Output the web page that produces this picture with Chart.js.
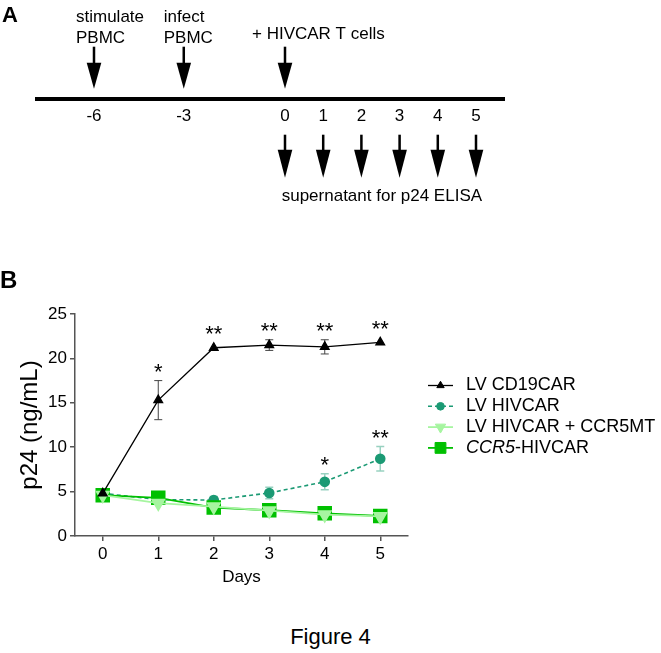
<!DOCTYPE html>
<html>
<head>
<meta charset="utf-8">
<title>Figure 4</title>
<script src="https://cdn.jsdelivr.net/npm/chart.js@4.4.0/dist/chart.umd.min.js"></script>
<style>
    body { margin: 0; background: #fff; }
    #page { position: relative; width: 661px; height: 653px; font-family: "Liberation Sans", Arial, sans-serif; color: #000; overflow: hidden; }
    .panel { position: absolute; font-weight: bold; }
    #timeline { position: absolute; left: 0; top: 0; }
    #p24chart { position: absolute; left: 0; top: 250px; }
    #caption { position: absolute; left: 0; top: 626px; width: 661px; text-align: center; font-size: 22px; line-height: 22px; }
</style>
</head>
<body>
<div id="page">
    <canvas id="timeline" width="661" height="210"></canvas>
    <canvas id="p24chart" width="661" height="360"></canvas>
    <div class="panel" style="left:2px; top:4px; font-size:22px; line-height:22px;">A</div>
    <div class="panel" style="left:0px; top:268px; font-size:24px; line-height:24px;">B</div>
    <div id="caption">Figure 4</div>
</div>
<script>
    // ---- panel A : schematic timeline (not drawn to scale) ----
    var timelineTicks = ['-6', '-3', '0', '1', '2', '3', '4', '5'];
    var timelinePos = [0, 2.35, 5, 6, 7, 8, 9, 10];
    var topArrowAt = ['-6', '-3', '0'];
    var topArrowText = [['stimulate', 'PBMC'], ['infect', 'PBMC'], ['+ HIVCAR T cells']];
    var bottomArrowAt = ['0', '1', '2', '3', '4', '5'];
    var bottomArrowText = 'supernatant for p24 ELISA';

    // ---- panel B : p24 in supernatant ----
    var days = ['0', '1', '2', '3', '4', '5'];
    var seriesNames = ['LV CD19CAR', 'LV HIVCAR', 'LV HIVCAR + CCR5MT', 'CCR5-HIVCAR'];
    var italicPart = [null, null, null, 'CCR5'];
    var cd19Mean = [4.8, 15.3, 21.2, 21.5, 21.3, 21.8];
    var cd19Err = [0, 2.2, 0, 0.6, 0.8, 0];
    var cd19Sig = ['', '*', '**', '**', '**', '**'];
    var hivMean = [4.8, 4.1, 4.05, 4.85, 6.1, 8.7];
    var hivErr = [0, 0, 0.4, 0.65, 0.9, 1.37];
    var hivSig = ['', '', '', '', '*', '**'];
    var ccr5mtMean = [4.6, 3.7, 3.3, 2.85, 2.4, 2.2];
    var ccr5Mean = [4.6, 4.3, 3.2, 2.9, 2.55, 2.25];
    var yTicks = [0, 5, 10, 15, 20, 25];

    var FONT = '"Liberation Sans", Arial, sans-serif';
    var AXIS = '#555';
    Chart.defaults.font.family = FONT;
    Chart.defaults.color = '#000';

    function drawArrow(ctx, x, yStart, yHead, yTip) {
        ctx.fillStyle = '#000';
        ctx.fillRect(x - 1.25, yStart, 2.5, yHead - yStart + 1);
        ctx.beginPath();
        ctx.moveTo(x - 7.3, yHead);
        ctx.lineTo(x + 7.3, yHead);
        ctx.lineTo(x, yTip);
        ctx.closePath();
        ctx.fill();
    }

    function posOf(label) {
        return timelinePos[timelineTicks.indexOf(label)];
    }

    var timelineArrows = {
        id: 'timelineArrows',
        afterDraw: function(chart) {
            var ctx = chart.ctx;
            var xs = chart.scales.x;
            var lineY = xs.top;
            var textDx = [-18, -20, -33];
            ctx.save();
            ctx.font = '17px ' + FONT;
            ctx.textAlign = 'left';
            ctx.textBaseline = 'alphabetic';
            topArrowAt.forEach(function(lab, i) {
                var x = xs.getPixelForValue(posOf(lab));
                drawArrow(ctx, x, lineY - 52, lineY - 36, lineY - 10);
                var lines = topArrowText[i];
                if (lines.length == 2) {
                    ctx.fillText(lines[0], x + textDx[i], lineY - 77);
                    ctx.fillText(lines[1], x + textDx[i], lineY - 55.7);
                } else {
                    ctx.fillText(lines[0], x + textDx[i], lineY - 59.5);
                }
            });
            bottomArrowAt.forEach(function(lab) {
                var x = xs.getPixelForValue(posOf(lab));
                drawArrow(ctx, x, lineY + 36, lineY + 51, lineY + 79);
            });
            var x0 = xs.getPixelForValue(posOf(bottomArrowAt[0]));
            ctx.fillText(bottomArrowText, x0 - 3.3, lineY + 102);
            ctx.restore();
        }
    };

    new Chart(document.getElementById('timeline').getContext('2d'), {
        type: 'scatter',
        data: { datasets: [] },
        options: {
            responsive: false,
            animation: false,
            layout: { padding: { left: 37, right: 157, top: 0, bottom: 0 } },
            plugins: { legend: { display: false }, tooltip: { enabled: false } },
            scales: {
                x: {
                    type: 'linear',
                    min: -1.492,
                    max: 10.733,
                    afterFit: function(scale) { scale.height = 111.3; },
                    afterBuildTicks: function(scale) {
                        scale.ticks = timelinePos.map(function(v) { return { value: v }; });
                    },
                    ticks: {
                        autoSkip: false,
                        maxRotation: 0,
                        padding: 7,
                        font: { size: 17 },
                        color: '#000',
                        callback: function(value, index) { return timelineTicks[index]; }
                    },
                    grid: { display: false, drawTicks: false },
                    border: { display: true, color: '#000', width: 4 }
                },
                y: { display: false, min: 0, max: 1 }
            }
        },
        plugins: [timelineArrows]
    });

    // error bars under the markers
    var errorBars = {
        id: 'errorBars',
        beforeDatasetsDraw: function(chart) {
            var ctx = chart.ctx;
            var xs = chart.scales.x, ys = chart.scales.y;
            chart.data.datasets.forEach(function(ds) {
                if (!ds.errors) return;
                ctx.save();
                ctx.strokeStyle = ds.errorColor;
                ctx.lineWidth = ds.errorWidth;
                ds.data.forEach(function(v, i) {
                    var e = ds.errors[i];
                    if (!e) return;
                    var x = xs.getPixelForValue(i);
                    var yt = ys.getPixelForValue(v + e);
                    var yb = ys.getPixelForValue(v - e);
                    ctx.beginPath();
                    ctx.moveTo(x, yt); ctx.lineTo(x, yb);
                    ctx.moveTo(x - 4, yt); ctx.lineTo(x + 4, yt);
                    ctx.moveTo(x - 4, yb); ctx.lineTo(x + 4, yb);
                    ctx.stroke();
                });
                ctx.restore();
            });
        }
    };

    // significance stars above each point
    var sigStars = {
        id: 'sigStars',
        afterDatasetsDraw: function(chart) {
            var ctx = chart.ctx;
            var xs = chart.scales.x, ys = chart.scales.y;
            ctx.save();
            ctx.font = '22px ' + FONT;
            ctx.fillStyle = '#000';
            ctx.textAlign = 'center';
            ctx.textBaseline = 'alphabetic';
            chart.data.datasets.forEach(function(ds) {
                if (!ds.sig) return;
                ds.sig.forEach(function(s, i) {
                    if (!s) return;
                    var x = xs.getPixelForValue(i);
                    var top = Math.min(ys.getPixelForValue(ds.data[i] + (ds.errors[i] || 0)),
                        ys.getPixelForValue(ds.data[i]) - ds.pointRadius);
                    var centre = top - 14.5;
                    ctx.fillText(s, x, centre + 12.8);
                });
            });
            ctx.restore();
        }
    };

    // legend with line sample + marker, drawn right of the plot
    var sideLegend = {
        id: 'sideLegend',
        afterDraw: function(chart) {
            var ctx = chart.ctx;
            var lx = chart.chartArea.right + 20;
            var ly = chart.chartArea.top + 71.5;
            ctx.save();
            chart.data.datasets.forEach(function(ds, i) {
                var y = ly + i * 20.8;
                ctx.strokeStyle = ds.borderColor;
                ctx.lineWidth = ds.borderWidth;
                ctx.setLineDash(ds.borderDash || []);
                ctx.beginPath();
                ctx.moveTo(lx, y); ctx.lineTo(lx + 25, y);
                ctx.stroke();
                ctx.setLineDash([]);
                ctx.fillStyle = ds.pointBackgroundColor;
                ctx.strokeStyle = ds.pointBorderColor;
                ctx.lineWidth = 1;
                Chart.helpers.drawPoint(ctx, {
                    pointStyle: ds.pointStyle,
                    rotation: ds.pointRotation || 0,
                    radius: ds.pointRadius * 0.85,
                    borderWidth: 1
                }, lx + 12.5, y);
                ctx.fillStyle = '#000';
                ctx.textAlign = 'left';
                ctx.textBaseline = 'middle';
                var tx = lx + 38;
                var name = seriesNames[i];
                if (italicPart[i]) {
                    ctx.font = 'italic 18px ' + FONT;
                    ctx.fillText(italicPart[i], tx, y);
                    tx += ctx.measureText(italicPart[i]).width;
                    name = name.slice(italicPart[i].length);
                }
                ctx.font = '18px ' + FONT;
                ctx.fillText(name, tx, y);
            });
            ctx.restore();
        }
    };

    new Chart(document.getElementById('p24chart').getContext('2d'), {
        type: 'line',
        data: {
            labels: days,
            datasets: [{
                    label: seriesNames[0],
                    data: cd19Mean,
                    order: 0,
                    errors: cd19Err,
                    sig: cd19Sig,
                    errorColor: '#444',
                    errorWidth: 1,
                    borderColor: '#000',
                    borderWidth: 1.3,
                    pointStyle: 'triangle',
                    pointRadius: 5,
                    pointBackgroundColor: '#000',
                    pointBorderColor: '#000'
                },
                {
                    label: seriesNames[1],
                    data: hivMean,
                    order: 3,
                    errors: hivErr,
                    sig: hivSig,
                    errorColor: 'rgba(27,154,116,0.45)',
                    errorWidth: 1.5,
                    borderColor: '#1b9a74',
                    borderWidth: 1.6,
                    borderDash: [4, 3],
                    pointStyle: 'circle',
                    pointRadius: 4.5,
                    pointBackgroundColor: '#1b9a74',
                    pointBorderColor: '#1b9a74'
                },
                {
                    label: seriesNames[2],
                    data: ccr5mtMean,
                    order: 1,
                    borderColor: '#a6f5a0',
                    borderWidth: 1.8,
                    pointStyle: 'triangle',
                    pointRotation: 180,
                    pointRadius: 7,
                    pointBackgroundColor: '#a6f5a0',
                    pointBorderColor: '#a6f5a0'
                },
                {
                    label: seriesNames[3],
                    data: ccr5Mean,
                    order: 2,
                    borderColor: '#00c000',
                    borderWidth: 1.8,
                    pointStyle: 'rect',
                    pointRadius: 9,
                    pointBackgroundColor: '#00c000',
                    pointBorderColor: '#00c000'
                }
            ]
        },
        options: {
            responsive: false,
            animation: false,
            layout: { padding: { left: 0, right: 253, top: 64, bottom: 0 } },
            plugins: { legend: { display: false }, tooltip: { enabled: false } },
            elements: { line: { tension: 0 } },
            scales: {
                x: {
                    type: 'category',
                    offset: true,
                    afterFit: function(scale) { scale.height = 74; },
                    ticks: { padding: 3, font: { size: 17 }, color: '#000', maxRotation: 0 },
                    grid: { drawOnChartArea: false, drawTicks: true, tickLength: 5, color: AXIS, lineWidth: 1.5 },
                    border: { color: AXIS, width: 1.5 },
                    title: { display: true, text: 'Days', font: { size: 17 }, color: '#000', padding: { top: 0, bottom: 22 } }
                },
                y: {
                    min: 0,
                    max: 25,
                    afterFit: function(scale) { scale.width = 75; },
                    afterBuildTicks: function(scale) {
                        scale.ticks = yTicks.map(function(v) { return { value: v }; });
                    },
                    ticks: { padding: 3, font: { size: 17 }, color: '#000' },
                    grid: { drawOnChartArea: false, drawTicks: true, tickLength: 5, color: AXIS, lineWidth: 1.5 },
                    border: { color: AXIS, width: 1.5 },
                    title: { display: true, text: 'p24 (ng/mL)', font: { size: 24 }, color: '#000', padding: { top: 16, bottom: 0 } }
                }
            }
        },
        plugins: [errorBars, sigStars, sideLegend]
    });
</script>
</body>
</html>
